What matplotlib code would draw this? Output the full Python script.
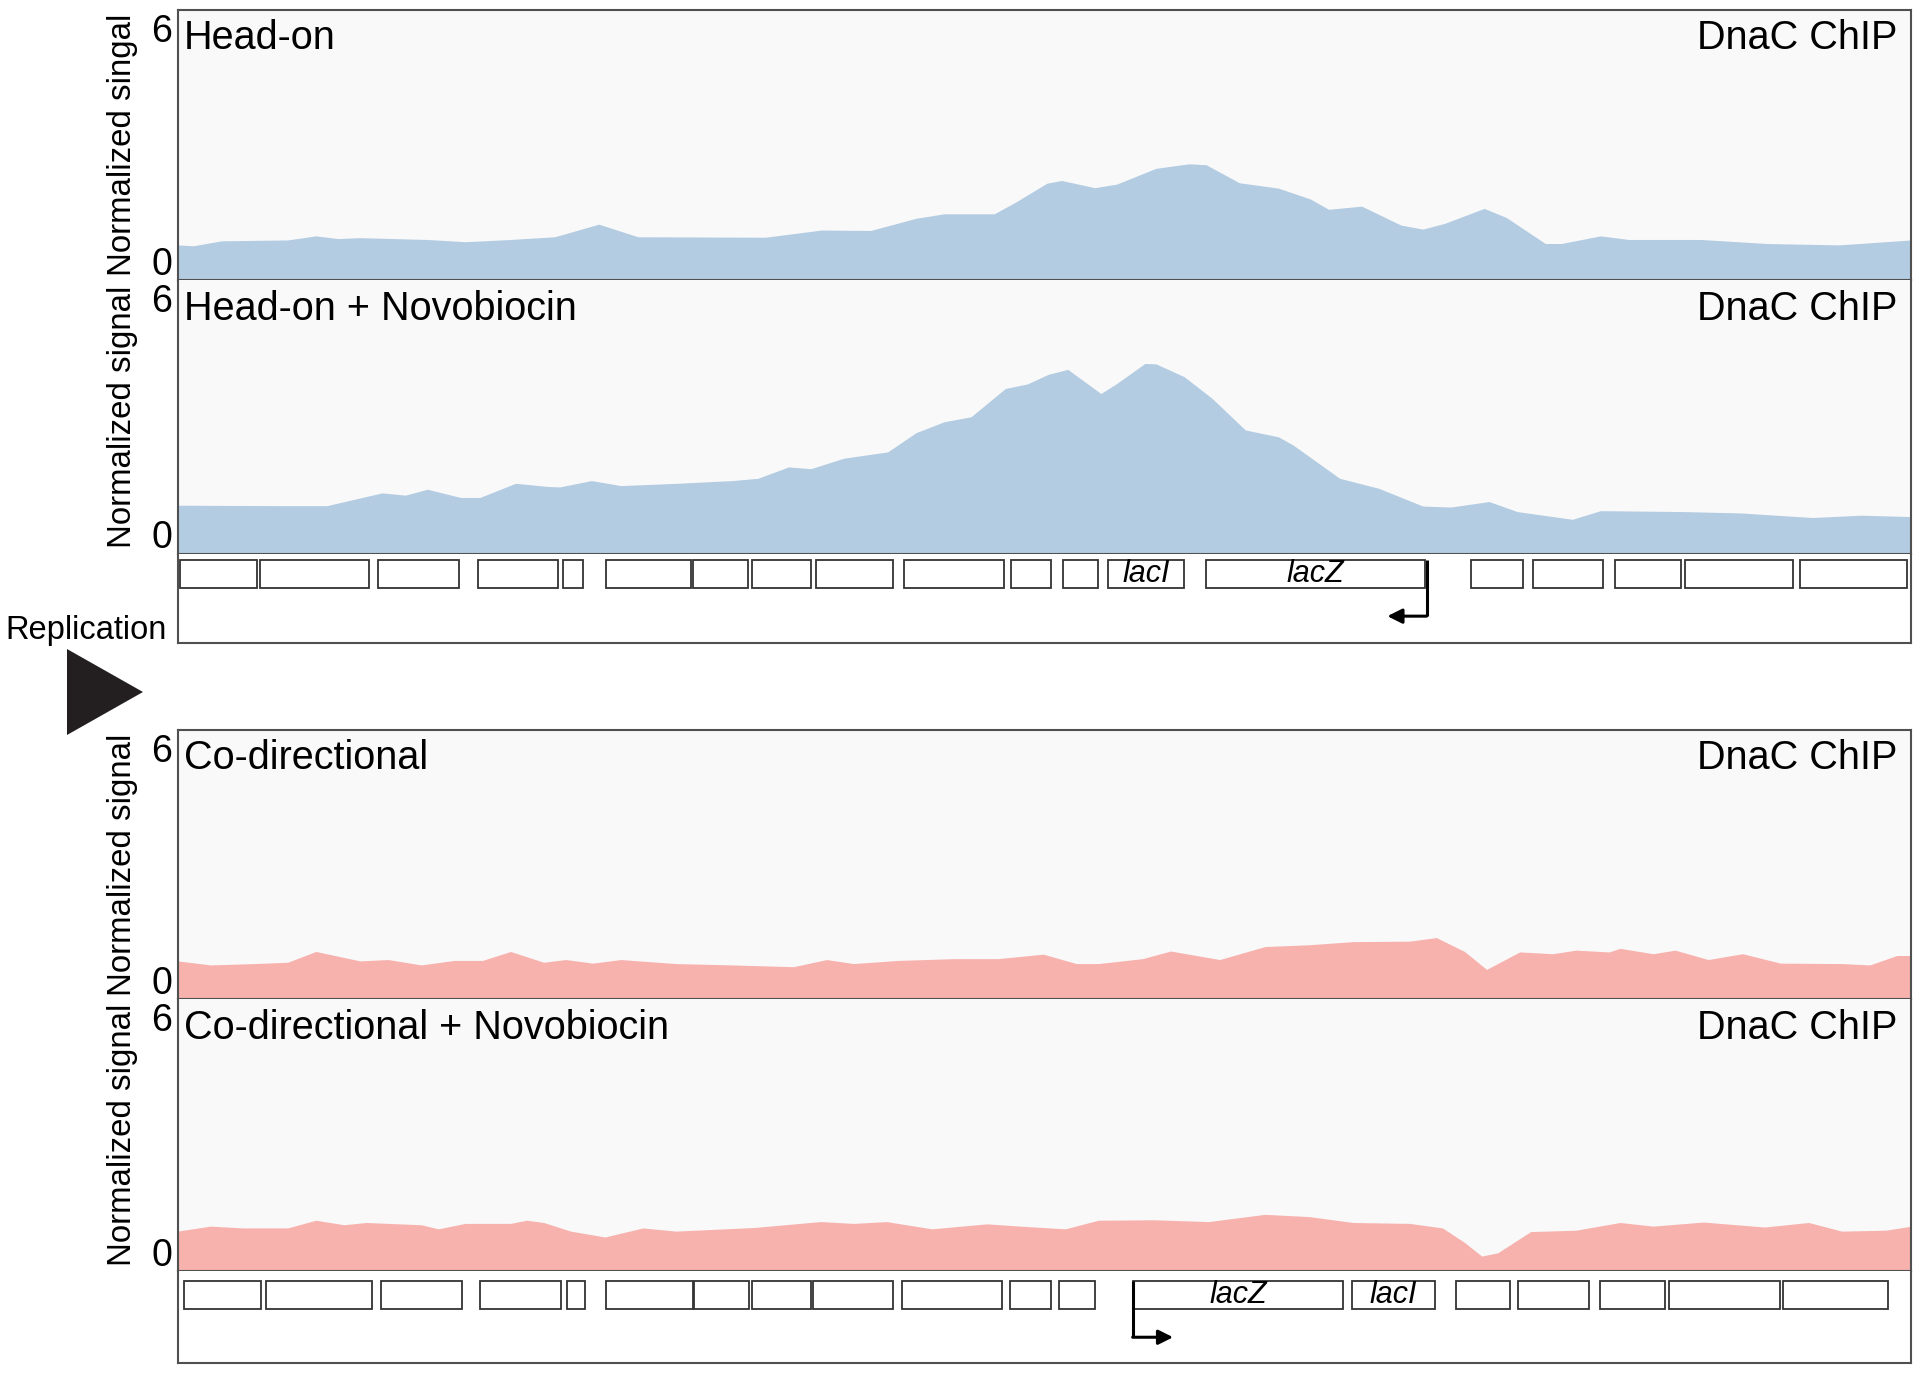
import matplotlib
matplotlib.use("Agg")
import matplotlib.pyplot as plt
from matplotlib.patches import Rectangle, Polygon
import matplotlib.transforms as mtransforms
import numpy as np

plt.rcParams['font.family'] = ['Liberation Sans', 'DejaVu Sans']

# ---------------- data ----------------
head_on_pos = [0, 13, 36, 90, 113, 131, 149, 204, 235, 272, 308, 344, 376, 480, 526, 566, 603, 626, 667, 685,
               710, 722, 749, 767, 799, 826, 840, 867, 899, 925, 940, 967, 999, 1017, 1035, 1067, 1085, 1117,
               1130, 1162, 1185, 1244, 1298, 1357, 1416]
head_on_val = [0.78, 0.76, 0.87, 0.89, 0.98, 0.92, 0.94, 0.90, 0.85, 0.90, 0.96, 1.24, 0.96, 0.95, 1.11, 1.10,
               1.37, 1.47, 1.47, 1.74, 2.15, 2.21, 2.05, 2.13, 2.48, 2.58, 2.56, 2.16, 2.04, 1.80, 1.57, 1.64,
               1.22, 1.13, 1.26, 1.59, 1.39, 0.81, 0.81, 0.98, 0.90, 0.90, 0.81, 0.78, 0.89]

head_nov_pos = [0, 81, 122, 167, 186, 204, 231, 247, 276, 303, 312, 338, 362, 408, 453, 474, 499, 517, 544, 580,
                603, 626, 648, 676, 694, 711, 727, 754, 767, 790, 799, 822, 845, 872, 899, 911, 949, 981, 1017,
                1040, 1071, 1094, 1139, 1162, 1230, 1276, 1335, 1375, 1416]
head_nov_val = [1.06, 1.05, 1.05, 1.33, 1.28, 1.41, 1.23, 1.23, 1.54, 1.47, 1.46, 1.60, 1.49, 1.54, 1.60, 1.65,
                1.90, 1.86, 2.09, 2.23, 2.65, 2.89, 3.00, 3.62, 3.72, 3.93, 4.04, 3.51, 3.73, 4.17, 4.16, 3.88,
                3.40, 2.71, 2.56, 2.38, 1.65, 1.43, 1.04, 1.02, 1.14, 0.92, 0.75, 0.94, 0.92, 0.89, 0.79, 0.84,
                0.81]

co_pos = [0, 27, 63, 90, 113, 149, 172, 199, 226, 249, 272, 299, 317, 339, 362, 407, 453, 503, 530, 552, 588,
          634, 670, 707, 734, 752, 788, 811, 851, 888, 924, 960, 1006, 1028, 1051, 1069, 1096, 1123, 1142, 1169,
          1178, 1205, 1223, 1250, 1278, 1309, 1359, 1382, 1404, 1416]
co_val = [0.85, 0.76, 0.79, 0.82, 1.06, 0.85, 0.88, 0.76, 0.86, 0.86, 1.06, 0.82, 0.88, 0.80, 0.88, 0.79, 0.76,
          0.72, 0.88, 0.79, 0.86, 0.90, 0.90, 1.00, 0.79, 0.79, 0.90, 1.07, 0.88, 1.17, 1.21, 1.28, 1.29, 1.37,
          1.06, 0.66, 1.05, 1.01, 1.09, 1.05, 1.13, 1.01, 1.09, 0.88, 1.01, 0.80, 0.79, 0.76, 0.97, 0.97]

co_nov_pos = [0, 27, 54, 90, 113, 136, 154, 199, 213, 235, 272, 285, 299, 321, 349, 380, 407, 471, 525, 552, 579,
              616, 661, 688, 725, 752, 797, 842, 888, 924, 960, 1006, 1033, 1051, 1065, 1078, 1105, 1142, 1178,
              1205, 1246, 1296, 1332, 1359, 1395, 1416]
co_nov_val = [0.88, 0.99, 0.95, 0.95, 1.12, 1.02, 1.07, 1.02, 0.93, 1.05, 1.05, 1.12, 1.07, 0.88, 0.75, 0.95,
              0.88, 0.96, 1.09, 1.05, 1.09, 0.93, 1.04, 0.99, 0.93, 1.12, 1.13, 1.09, 1.25, 1.20, 1.07, 1.05,
              0.95, 0.63, 0.33, 0.40, 0.87, 0.90, 1.07, 0.99, 1.08, 0.97, 1.07, 0.88, 0.90, 0.99]

panel_titles = ["Head-on", "Head-on + Novobiocin", "Co-directional", "Co-directional + Novobiocin"]
panel_tag = "DnaC ChIP"
ylabels = ["Normalized singal", "Normalized signal", "Normalized signal", "Normalized signal"]
y_ticks = [0, 6]

# gene tracks: (start, end, label)
genes_top = [(2, 65, ""), (67, 156, ""), (164, 230, ""), (245, 311, ""), (315, 331, ""), (350, 419, ""),
             (421, 466, ""), (469, 517, ""), (521, 584, ""), (593, 675, ""), (681, 713, ""), (723, 752, ""),
             (760, 822, "lacI"), (840, 1019, "lacZ"), (1056, 1099, ""), (1107, 1164, ""), (1174, 1228, ""),
             (1231, 1319, ""), (1325, 1412, "")]
genes_bottom = [(5, 68, ""), (72, 159, ""), (166, 232, ""), (247, 313, ""), (318, 333, ""), (350, 421, ""),
                (422, 467, ""), (469, 517, ""), (519, 584, ""), (592, 673, ""), (680, 713, ""), (720, 749, ""),
                (780, 952, "lacZ"), (959, 1027, "lacI"), (1044, 1088, ""), (1095, 1153, ""), (1162, 1215, ""),
                (1218, 1309, ""), (1311, 1397, "")]
# promoter arrows: (x start, x end)
promoter_top = (1020, 988)
promoter_bottom = (780, 813)

XMAX = 1416
BLUE = "#b4cce2"
PINK = "#f7b2ae"
PANEL_BG = "#f9f9f9"
EDGE = "#505050"

W, H = 1920, 1374
fig = plt.figure(figsize=(W / 100, H / 100), dpi=100)

left = 177.5 / W
width = (1911.5 - 177.5) / W


def ax_at(top_px, bot_px):
    return fig.add_axes([left, 1 - bot_px / H, width, (bot_px - top_px) / H])


def signal_panel(ax, pos, val, color, title, ylabel):
    ax.set_facecolor(PANEL_BG)
    ax.fill_between(pos, 0, val, color=color, linewidth=0)
    ax.set_xlim(0, XMAX)
    ax.set_ylim(0, 6)
    ax.set_xticks([])
    ax.set_yticks(y_ticks)
    ax.set_yticklabels([str(t) for t in y_ticks], fontsize=27)
    ax.tick_params(axis='y', length=0, pad=4)
    labs = ax.get_yticklabels()
    labs[0].set_va('bottom')
    labs[0].set_transform(labs[0].get_transform() +
                          mtransforms.ScaledTranslation(0, -2 / 72, fig.dpi_scale_trans))
    labs[1].set_va('top')
    labs[1].set_transform(labs[1].get_transform() +
                          mtransforms.ScaledTranslation(0, -3 / 72, fig.dpi_scale_trans))
    for s in ax.spines.values():
        s.set_color(EDGE)
        s.set_linewidth(1.5)
    ax.text(0.0035, 0.965, title, transform=ax.transAxes, ha='left', va='top', fontsize=28.5)
    ax.text(0.992, 0.965, panel_tag, transform=ax.transAxes, ha='right', va='top', fontsize=28.5)
    ax.text(-0.0315, 0.5, ylabel, transform=ax.transAxes, rotation=90, ha='center', va='center',
            fontsize=23.8)


def gene_track(ax, genes, box_top, box_bot, promoter, arrow_y):
    ax.set_facecolor("white")
    ax.set_xlim(0, XMAX)
    ax.set_ylim(0, 1)
    ax.set_xticks([])
    ax.set_yticks([])
    ax.spines['top'].set_visible(False)
    for k in ['left', 'right', 'bottom']:
        ax.spines[k].set_color(EDGE)
        ax.spines[k].set_linewidth(1.5)
    for (s, e, lab) in genes:
        ax.add_patch(Rectangle((s, box_bot), e - s, box_top - box_bot, facecolor='white',
                               edgecolor='#333333', linewidth=1.3))
        if lab:
            ax.text((s + e) / 2, (box_top + box_bot) / 2, lab, ha='center', va='center',
                    fontsize=22, style='italic')
    x0, x1 = promoter
    ax.plot([x0, x0], [box_top, arrow_y], color='black', linewidth=2.2, solid_capstyle='butt')
    ax.annotate("", xy=(x1, arrow_y), xytext=(x0, arrow_y),
                arrowprops=dict(arrowstyle='-|>', color='black', lw=2.2, mutation_scale=22,
                                shrinkA=0, shrinkB=0))


ax1 = ax_at(9.8, 280)
signal_panel(ax1, head_on_pos, head_on_val, BLUE, panel_titles[0], ylabels[0])
ax2 = ax_at(280, 553.5)
signal_panel(ax2, head_nov_pos, head_nov_val, BLUE, panel_titles[1], ylabels[1])
ax2.spines['top'].set_visible(False)
g1 = ax_at(553.5, 643)
gene_track(g1, genes_top, 0.93, 0.616, promoter_top, 0.30)

ax3 = ax_at(730, 999)
signal_panel(ax3, co_pos, co_val, PINK, panel_titles[2], ylabels[2])
ax4 = ax_at(999, 1271)
signal_panel(ax4, co_nov_pos, co_nov_val, PINK, panel_titles[3], ylabels[3])
ax4.spines['top'].set_visible(False)
g2 = ax_at(1271, 1363)
gene_track(g2, genes_bottom, 0.893, 0.587, promoter_bottom, 0.28)

# Replication label and arrowhead
fig.text(86 / W, 1 - 631 / H, "Replication", ha='center', va='center', fontsize=23.5)
tri = Polygon([[67 / W, 1 - 649 / H], [67 / W, 1 - 735 / H], [143 / W, 1 - 692 / H]],
              closed=True, transform=fig.transFigure, facecolor='#231f20', edgecolor='none')
fig.patches.append(tri)

fig.savefig("out.png", dpi=100, facecolor='white')
